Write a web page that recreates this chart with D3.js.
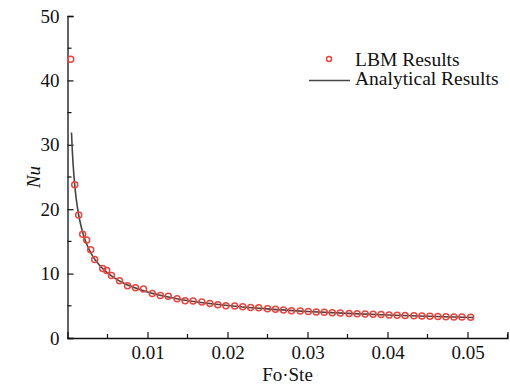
<!DOCTYPE html>
<html>
<head>
<meta charset="utf-8">
<script src="https://cdn.jsdelivr.net/npm/d3@7"></script>
<style>
  body { margin: 0; background: #fff; }
  svg text { font-family: "Liberation Serif", "Times New Roman", serif; fill: #111; }
</style>
</head>
<body>
<div id="chart"></div>
<script>
// LBM results (Fo·Ste, Nu)
const lbmX = [0.0004, 0.0009, 0.0014, 0.0019, 0.0024, 0.0029, 0.0034, 0.0044, 0.0049, 0.0055,
  0.0065, 0.0075, 0.0085, 0.0095, 0.0106, 0.0116, 0.0126, 0.0137, 0.0147, 0.0157,
  0.0168, 0.0178, 0.0188, 0.0198, 0.0209, 0.0219, 0.0229, 0.0239, 0.0250, 0.0260,
  0.0270, 0.0280, 0.0291, 0.0301, 0.0311, 0.0321, 0.0331, 0.0341, 0.0352, 0.0362,
  0.0372, 0.0382, 0.0392, 0.0402, 0.0412, 0.0422, 0.0433, 0.0443, 0.0453, 0.0463,
  0.0473, 0.0483, 0.0493, 0.0504];
const lbmNu = [43.3, 23.8, 19.1, 16.1, 15.2, 13.7, 12.2, 10.8, 10.5, 9.7,
  8.9, 8.1, 7.8, 7.6, 6.9, 6.6, 6.5, 6.1, 5.8, 5.75,
  5.6, 5.35, 5.15, 5.0, 4.95, 4.85, 4.75, 4.7, 4.55, 4.45,
  4.35, 4.25, 4.2, 4.1, 4.05, 3.98, 3.93, 3.88, 3.82, 3.77,
  3.72, 3.67, 3.63, 3.58, 3.54, 3.50, 3.46, 3.42, 3.38, 3.35,
  3.31, 3.28, 3.25, 3.22];

// analytical results
const anaX = [0.0005, 0.0006, 0.0007, 0.0008, 0.001, 0.0012, 0.0015, 0.002, 0.0025, 0.003,
  0.004, 0.005, 0.006, 0.007, 0.008, 0.01, 0.012, 0.014, 0.016, 0.018,
  0.02, 0.025, 0.03, 0.035, 0.04, 0.045, 0.0507];
const anaNu = [31.9, 29.15, 26.98, 25.25, 22.58, 20.61, 18.44, 15.97, 14.28, 13.04,
  11.29, 10.10, 9.22, 8.53, 7.98, 7.14, 6.52, 6.03, 5.64, 5.32,
  5.05, 4.52, 4.12, 3.82, 3.57, 3.37, 3.17];

const xTicks = [0.01, 0.02, 0.03, 0.04, 0.05];
const yTicks = [0, 10, 20, 30, 40, 50];
const seriesNames = ["LBM Results", "Analytical Results"];

const w = 510, h = 385;
const mLeft = 67.5, mRight = 507.5, mTop = 16, mBottom = 338;
const red = "#e8453f", grey = "#444";

const svg = d3.select("#chart").append("svg")
  .attr("width", w).attr("height", h);

const x = d3.scaleLinear().domain([0, 0.055]).range([mLeft, mRight]);
const y = d3.scaleLinear().domain([0, 50]).range([mBottom, mTop]);

// minor ticks
const xMinor = d3.range(0.005, 0.0551, 0.01);
const yMinor = d3.range(5, 50, 10);

// x axis, ticks pointing inward
const xAxis = d3.axisBottom(x).tickValues(xTicks).tickFormat(d3.format(".2f"))
  .tickSize(-6).tickPadding(8);
const gx = svg.append("g").attr("transform", "translate(0," + mBottom + ")").call(xAxis);
gx.selectAll(".tick text").style("font-size", "19px").attr("dy", "0.71em");
gx.append("g").selectAll("line").data(xMinor).join("line")
  .attr("x1", d => x(d)).attr("x2", d => x(d)).attr("y1", 0).attr("y2", -4)
  .attr("stroke", "#111");

// y axis
const yAxis = d3.axisLeft(y).tickValues(yTicks).tickSize(-6).tickPadding(8);
const gy = svg.append("g").attr("transform", "translate(" + mLeft + ",0)").call(yAxis);
gy.selectAll(".tick text").style("font-size", "19px");
gy.append("g").selectAll("line").data(yMinor).join("line")
  .attr("y1", d => y(d)).attr("y2", d => y(d)).attr("x1", 0).attr("x2", 4)
  .attr("stroke", "#111");

[gx, gy].forEach(g => {
  g.select(".domain").attr("stroke", "#111").attr("stroke-width", 1.3);
  g.selectAll(".tick line").attr("stroke", "#111");
  g.selectAll("line").attr("stroke-width", 1.2);
});

// axis titles
svg.append("text")
  .attr("x", (mLeft + mRight) / 2).attr("y", 381)
  .attr("text-anchor", "middle").style("font-size", "19px")
  .text("Fo·Ste");
svg.append("text")
  .attr("transform", "translate(40," + ((mTop + mBottom) / 2) + ") rotate(-90)")
  .attr("text-anchor", "middle").style("font-size", "19px").style("font-style", "italic")
  .text("Nu");

// analytical line
const line = d3.line()
  .x((d, i) => x(anaX[i]))
  .y(d => y(d))
  .curve(d3.curveMonotoneX);
svg.append("path").datum(anaNu)
  .attr("d", line)
  .attr("fill", "none").attr("stroke", grey).attr("stroke-width", 1.6);

// LBM markers
svg.append("g").selectAll("circle").data(lbmNu).join("circle")
  .attr("cx", (d, i) => x(lbmX[i]))
  .attr("cy", d => y(d))
  .attr("r", 3)
  .attr("fill", "none").attr("stroke", red).attr("stroke-width", 1.5);

// legend
const lg = svg.append("g");
lg.append("circle").attr("cx", 329).attr("cy", 59).attr("r", 2.5)
  .attr("fill", "none").attr("stroke", red).attr("stroke-width", 1.5);
lg.append("line").attr("x1", 309).attr("x2", 350).attr("y1", 80.5).attr("y2", 80.5)
  .attr("stroke", grey).attr("stroke-width", 1.6);
lg.selectAll("text").data(seriesNames).join("text")
  .attr("x", 355).attr("y", (d, i) => 66 + i * 19)
  .style("font-size", "19.5px")
  .text(d => d);
</script>
</body>
</html>
